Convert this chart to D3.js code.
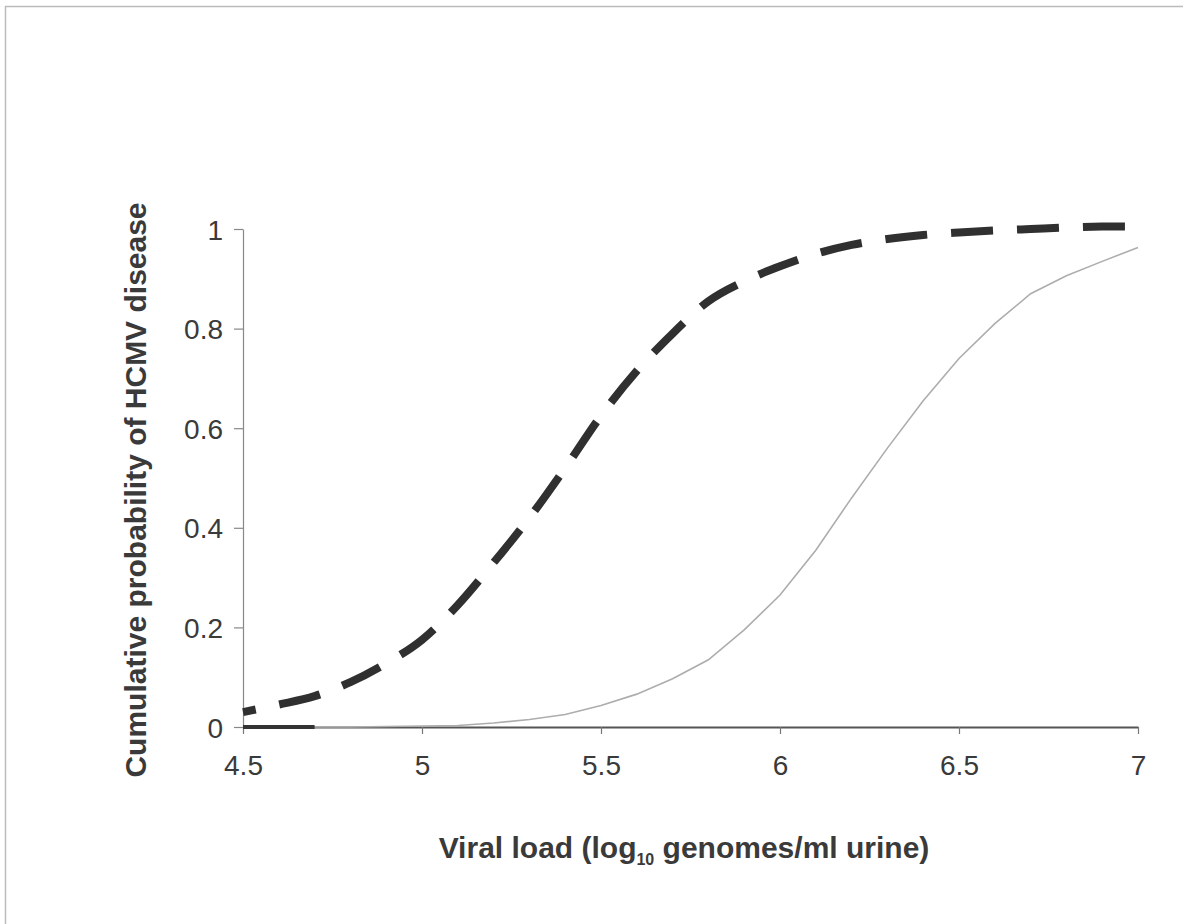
<!DOCTYPE html>
<html>
<head>
<meta charset="utf-8">
<script src="https://cdn.jsdelivr.net/npm/d3@7"></script>
<style>
  body { margin: 0; background: #fff; }
  svg text { font-family: Arial, "Liberation Sans", sans-serif; }
</style>
</head>
<body>
<svg id="chart" width="1187" height="924"></svg>
<script>
  // viral load (log10 genomes/ml urine)
  var viralLoad = [4.5, 4.6, 4.7, 4.8, 4.9, 5.0, 5.1, 5.2, 5.3, 5.4, 5.5, 5.6, 5.7,
                   5.8, 5.9, 6.0, 6.1, 6.2, 6.3, 6.4, 6.5, 6.6, 6.7, 6.8, 6.9, 7.0];
  // cumulative probability, thick dashed curve
  var probDashed = [0.03, 0.045, 0.062, 0.09, 0.128, 0.175, 0.245, 0.33, 0.42, 0.52,
                    0.625, 0.715, 0.79, 0.855, 0.895, 0.925, 0.95, 0.968, 0.98, 0.988,
                    0.993, 0.997, 1.0, 1.003, 1.005, 1.005];
  // cumulative probability, thin solid curve
  var probSolid = [0, 0, 0, 0, 0.001, 0.002, 0.003, 0.008, 0.015, 0.025,
                   0.043, 0.066, 0.097, 0.135, 0.195, 0.265, 0.355, 0.46, 0.56, 0.655,
                   0.74, 0.81, 0.87, 0.906, 0.935, 0.963];
  // short heavy segment lying on the baseline
  var baseX = [4.5, 4.7];
  var baseY = [0, 0];

  var xTicks = [4.5, 5, 5.5, 6, 6.5, 7];
  var yTicks = [0, 0.2, 0.4, 0.6, 0.8, 1];

  var svg = d3.select('#chart');

  // faint frame on top and left
  svg.append('path')
    .attr('d', 'M5.5,924 L5.5,6.5 L1183,6.5')
    .attr('fill', 'none')
    .attr('stroke', '#bbb')
    .attr('stroke-width', 1.5);

  var x = d3.scaleLinear().domain([4.5, 7]).range([243, 1138]);
  var y = d3.scaleLinear().domain([0, 1]).range([727, 229]);

  var xAxis = svg.append('g')
    .attr('transform', 'translate(0,727)')
    .call(d3.axisBottom(x).tickValues(xTicks).tickSize(7).tickSizeOuter(0)
      .tickFormat(function(d) { return String(d); }));
  xAxis.select('.domain').attr('stroke', '#555').attr('stroke-width', 2);
  xAxis.selectAll('.tick line').attr('stroke', '#777').attr('stroke-width', 1.2);
  xAxis.selectAll('.tick text')
    .attr('y', 48)
    .attr('dy', 0)
    .attr('fill', '#3a3a3a')
    .style('font-size', '28px');

  var yAxis = svg.append('g')
    .attr('transform', 'translate(243,0)')
    .call(d3.axisLeft(y).tickValues(yTicks).tickSize(9).tickSizeOuter(0)
      .tickFormat(function(d) { return String(d); }));
  yAxis.select('.domain').attr('stroke', '#888').attr('stroke-width', 1.2);
  yAxis.selectAll('.tick line').attr('stroke', '#888').attr('stroke-width', 1.2);
  yAxis.selectAll('.tick text')
    .attr('x', -20)
    .attr('dy', '0.36em')
    .attr('fill', '#3a3a3a')
    .style('font-size', '28px');

  var line = d3.line()
    .x(function(d) { return x(d[0]); })
    .y(function(d) { return y(d[1]); });

  var solidData = viralLoad.map(function(v, i) { return [v, probSolid[i]]; });
  var dashedData = viralLoad.map(function(v, i) { return [v, probDashed[i]]; });
  var baseData = baseX.map(function(v, i) { return [v, baseY[i]]; });

  svg.append('path')
    .datum(solidData)
    .attr('d', line)
    .attr('fill', 'none')
    .attr('stroke', '#adadad')
    .attr('stroke-width', 1.6);

  svg.append('path')
    .datum(baseData)
    .attr('d', line)
    .attr('fill', 'none')
    .attr('stroke', '#333')
    .attr('stroke-width', 4);

  svg.append('path')
    .datum(dashedData)
    .attr('d', d3.line().curve(d3.curveMonotoneX)
      .x(function(d) { return x(d[0]); })
      .y(function(d) { return y(d[1]); }))
    .attr('fill', 'none')
    .attr('stroke', '#303030')
    .attr('stroke-width', 8)
    .attr('stroke-dasharray', '42,24')
    .attr('stroke-dashoffset', 29);

  // axis titles
  var xTitle = svg.append('text')
    .attr('x', 684)
    .attr('y', 858)
    .attr('text-anchor', 'middle')
    .attr('fill', '#3a3a3a')
    .style('font-size', '30px')
    .style('font-weight', 'bold');
  xTitle.append('tspan').text('Viral load (log');
  xTitle.append('tspan').attr('dy', 7).style('font-size', '16px').text('10');
  xTitle.append('tspan').attr('dy', -7).text(' genomes/ml urine)');

  svg.append('text')
    .attr('transform', 'translate(146,490) rotate(-90)')
    .attr('text-anchor', 'middle')
    .attr('fill', '#3a3a3a')
    .style('font-size', '30px')
    .style('font-weight', 'bold')
    .text('Cumulative probability of HCMV disease');
</script>
</body>
</html>
